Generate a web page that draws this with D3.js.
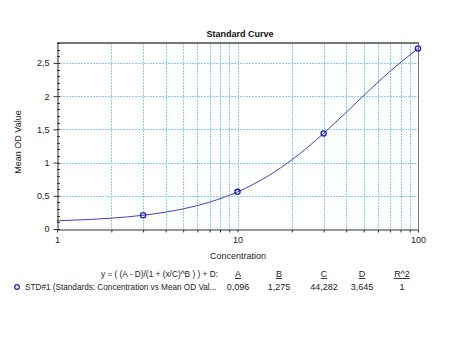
<!DOCTYPE html>
<html><head><meta charset="utf-8">
<script src="https://cdn.jsdelivr.net/npm/d3@7"></script>
<style>body{margin:0;background:#fff}svg{display:block;font-family:"Liberation Sans",Arial,sans-serif}</style>
</head><body><svg id="c" width="470" height="348"></svg>
<script>
const pointX = [3, 10, 30, 100];
const pointY = [0.207, 0.559, 1.439, 2.717];
const curveX = [1, 1.5, 2, 3, 4, 5, 7, 10, 15, 20, 30, 40, 50, 70, 100];
const curveY = [0.124, 0.143, 0.163, 0.207, 0.254, 0.303, 0.404, 0.559, 0.809, 1.041, 1.439, 1.756, 2.008, 2.374, 2.717];
const yTicks = [0, 0.5, 1, 1.5, 2, 2.5];
const xLabelTicks = [1, 10, 100];
const paramNames = ["A", "B", "C", "D", "R^2"];
const paramValues = ["0,096", "1,275", "44,282", "3,645", "1"];

const svg = d3.select("#c");
const L = 57, R = 418, T = 43, B = 229;
const x = d3.scaleLog().domain([1, 100]).range([L, R]);
const y = d3.scaleLinear().domain([0, 2.8]).range([B, T]);
const fmt = d => String(d).replace(".", ",");

// grid
const gridX = [];
for (let d = 1; d <= 10; d *= 10) for (let k = 2; k <= 10; k++) if (d * k < 100) gridX.push(d * k);
const grid = svg.append("g").attr("stroke", "#7fd0ee").attr("stroke-width", 1).attr("stroke-dasharray", "2,1");
grid.selectAll("line.v").data(gridX).join("line").attr("class", "v")
  .attr("x1", d => Math.round(x(d)) + 0.5).attr("x2", d => Math.round(x(d)) + 0.5).attr("y1", T).attr("y2", B);
grid.selectAll("line.h").data(yTicks.filter(d => d > 0)).join("line").attr("class", "h")
  .attr("y1", d => Math.round(y(d)) + 0.5).attr("y2", d => Math.round(y(d)) + 0.5).attr("x1", L).attr("x2", R);

// frame
svg.append("line").attr("x1", L).attr("x2", R + 1).attr("y1", T).attr("y2", T).attr("stroke", "#777").attr("stroke-width", 2);
svg.append("line").attr("x1", R + 0.5).attr("x2", R + 0.5).attr("y1", T).attr("y2", B).attr("stroke", "#777");

// y axis
const yAxis = svg.append("g").attr("transform", `translate(${L + 0.5},0)`)
  .call(d3.axisLeft(y).tickValues(yTicks).tickFormat(fmt).tickSize(4).tickSizeOuter(0));
yAxis.select(".domain").attr("stroke", "#333");
yAxis.selectAll(".tick line").attr("stroke", "#333");
yAxis.selectAll("text").attr("font-size", 9).attr("fill", "#222").attr("dx", "-0.1em");
const minorY = d3.range(0, 2.81, 0.1);
svg.append("g").selectAll("line").data(minorY).join("line")
  .attr("x1", L).attr("x2", L + 3).attr("y1", d => Math.round(y(d)) + 0.5).attr("y2", d => Math.round(y(d)) + 0.5)
  .attr("stroke", "#333");

// x axis
const xAxis = svg.append("g").attr("transform", `translate(0,${B + 0.5})`)
  .call(d3.axisBottom(x).tickValues(gridX.concat([1, 100])).tickFormat(d => xLabelTicks.includes(d) ? d : "").tickSize(3).tickSizeOuter(0));
xAxis.select(".domain").attr("stroke", "#333");
xAxis.selectAll(".tick line").attr("stroke", "#333");
xAxis.selectAll("text").attr("font-size", 9).attr("fill", "#222").attr("dy", "0.8em");

// curve
const line = d3.line().x((d, i) => x(curveX[i])).y(d => y(d)).curve(d3.curveMonotoneX);
svg.append("path").attr("d", line(curveY)).attr("fill", "none").attr("stroke", "#4040c8").attr("stroke-width", 1);

// points
svg.append("g").selectAll("circle").data(pointX).join("circle")
  .attr("cx", d => x(d)).attr("cy", (d, i) => y(pointY[i])).attr("r", 2.6)
  .attr("fill", "none").attr("stroke", "#1c1cc8").attr("stroke-width", 1.3);

// titles
svg.append("text").attr("x", 240).attr("y", 37).attr("text-anchor", "middle").attr("font-size", 9).attr("font-weight", "bold").attr("fill", "#111").text("Standard Curve");
svg.append("text").attr("x", 238).attr("y", 259).attr("text-anchor", "middle").attr("font-size", 9).attr("fill", "#222").text("Concentration");
svg.append("text").attr("transform", "translate(21,142) rotate(-90)").attr("text-anchor", "middle").attr("font-size", 9).attr("fill", "#222").text("Mean OD Value");

// legend table
const colX = [238, 279, 324, 362, 402];
svg.append("text").attr("x", 218).attr("y", 277).attr("text-anchor", "end").attr("font-size", 8.3).attr("fill", "#222").text("y = ( (A - D)/(1 + (x/C)^B ) ) + D:");
paramNames.forEach((n, i) => {
  svg.append("text").attr("x", colX[i]).attr("y", 277).attr("text-anchor", "middle").attr("font-size", 9).attr("fill", "#222").attr("text-decoration", "underline").text(n);
  svg.append("text").attr("x", colX[i]).attr("y", 290).attr("text-anchor", "middle").attr("font-size", 9).attr("fill", "#222").text(paramValues[i]);
});
svg.append("circle").attr("cx", 17).attr("cy", 287).attr("r", 2.3).attr("fill", "none").attr("stroke", "#1c1cc8").attr("stroke-width", 1.2);
svg.append("text").attr("x", 25).attr("y", 290).attr("font-size", 8.2).attr("fill", "#222").text("STD#1 (Standards: Concentration vs Mean OD Val...");
</script></body></html>
